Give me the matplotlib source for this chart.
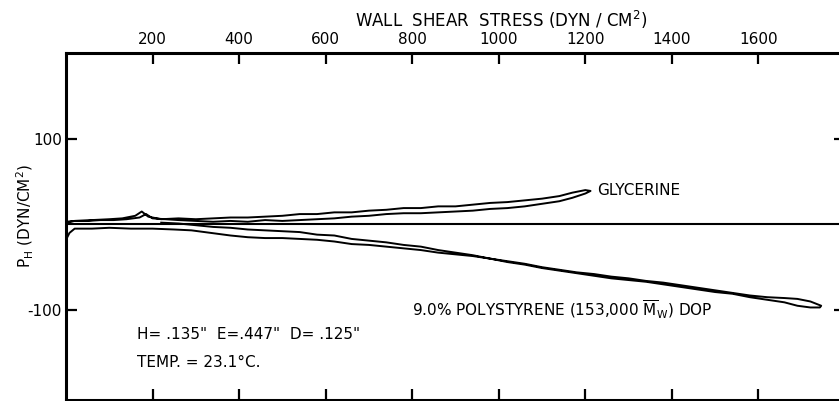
import numpy as np
import matplotlib.pyplot as plt

plt.rcParams['mathtext.default'] = 'regular'
plt.rcParams['axes.unicode_minus'] = False

# glycerine trace: out along the lower branch, back along the upper one
gly_x = [0, 20, 50, 80, 110, 140, 170, 185, 200, 230, 260, 300, 340, 380, 420, 460, 500,
         540, 580, 620, 660, 700, 740, 780, 820, 860, 900, 940, 980, 1020, 1060, 1100,
         1140, 1170, 1200, 1212,
         1200, 1170, 1140, 1100, 1060, 1020, 980, 940, 900, 860, 820, 780, 740, 700, 660,
         620, 580, 540, 500, 460, 420, 380, 340, 300, 260, 220, 190, 175, 160, 130, 100,
         60, 20, 0]
gly_y = [2, 4, 4, 5, 5, 6, 8, 12, 7, 6, 5, 4, 3, 4, 3, 5, 4,
         5, 6, 7, 9, 10, 12, 13, 13, 14, 15, 16, 18, 19, 21, 24,
         27, 31, 36, 39,
         40, 37, 33, 30, 28, 26, 25, 23, 21, 21, 19, 19, 17, 16, 14,
         14, 12, 12, 10, 9, 8, 8, 7, 6, 7, 6, 9, 15, 10, 7, 6,
         5, 4, 3]

# polystyrene solution trace
ps_x = [0, 8, 20, 60, 100, 150, 200, 250, 290, 320, 350, 380, 420, 460, 500, 540, 580,
        620, 660, 700, 740, 780, 820, 860, 900, 940, 980, 1020, 1060, 1100, 1140, 1180,
        1220, 1260, 1300, 1340, 1380, 1420, 1460, 1500, 1540, 1580, 1620, 1660, 1690,
        1720, 1742,
        1745, 1720, 1690, 1660, 1620, 1580, 1540, 1500, 1460, 1420, 1380, 1340, 1300,
        1260, 1220, 1180, 1140, 1100, 1060, 1020, 980, 940, 900, 860, 820, 780, 740, 700,
        660, 620, 580, 540, 500, 460, 420, 380, 340, 300, 260, 220]
ps_y = [-18, -10, -5, -5, -4, -5, -5, -6, -7, -9, -11, -13, -15, -16, -16, -17, -18,
        -20, -23, -24, -26, -28, -30, -33, -35, -37, -40, -44, -47, -51, -54, -57,
        -60, -63, -65, -67, -70, -73, -76, -79, -81, -85, -88, -91, -95,
        -97, -97,
        -95, -90, -87, -86, -85, -83, -80, -77, -74, -71, -68, -66, -63,
        -61, -58, -56, -53, -50, -46, -43, -40, -36, -33, -30, -26, -24, -21, -19,
        -17, -13, -12, -9, -8, -7, -6, -4, -3, -1, 1, 2]

x_ticks = [200, 400, 600, 800, 1000, 1200, 1400, 1600]
y_ticks = [100, -100]

fig = plt.figure(figsize=(8.39, 4.01), dpi=100)
ax = fig.add_axes([66 / 839, 1 / 401, 779 / 839, 347 / 401])

ax.axhline(0, color='black', lw=1.5)
ax.plot(gly_x, gly_y, color='black', lw=1.4)
ax.plot(ps_x, ps_y, color='black', lw=1.4)

ax.set_xlim(0, 1800)
ax.set_ylim(-205, 200)

ax.set_xticks(x_ticks)
ax.set_yticks(y_ticks)
ax.tick_params(axis='x', which='both', direction='in', length=8, width=1.6,
               top=True, bottom=True, labeltop=True, labelbottom=False, pad=4, labelsize=11)
ax.tick_params(axis='y', which='both', direction='in', length=8, width=1.6,
               left=True, right=True, pad=3, labelsize=11)
ax.spines['right'].set_visible(False)
for s in ['left', 'top', 'bottom']:
    ax.spines[s].set_linewidth(2.2)

fig.text(501 / 839, 1 - 20 / 401, r'WALL  SHEAR  STRESS (DYN / CM$^2$)', ha='center', va='center',
         fontsize=12)
fig.text(25 / 839, 1 - 216 / 401, r'P$_H$ (DYN/CM$^2$)', rotation=90, ha='center', va='center',
         fontsize=11)

ax.text(1228, 40, 'GLYCERINE', ha='left', va='center', fontsize=11)
ax.text(800, -100, r'9.0% POLYSTYRENE (153,000 $\overline{M}_W$) DOP', ha='left', va='center',
        fontsize=11)
ax.text(165, -128, 'H= .135"  E=.447"  D= .125"', ha='left', va='center', fontsize=11)
ax.text(165, -161, 'TEMP. = 23.1°C.', ha='left', va='center', fontsize=11)

fig.savefig('out.png', dpi=100)
